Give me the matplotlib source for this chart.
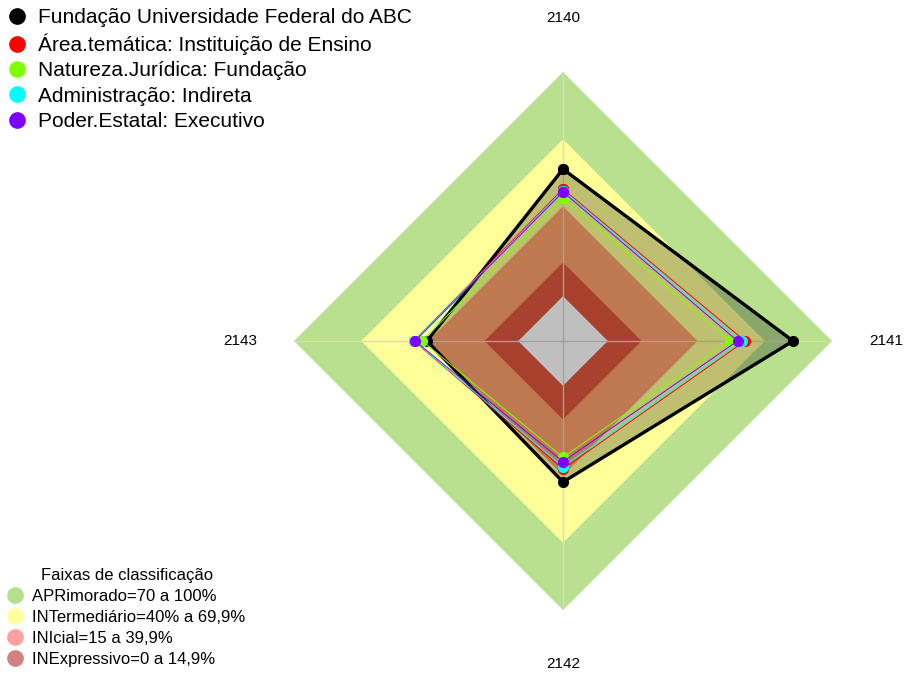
import numpy as np
import matplotlib
matplotlib.use("Agg")
import matplotlib.pyplot as plt
from matplotlib.lines import Line2D

plt.rcParams['font.family'] = ['Liberation Sans', 'DejaVu Sans']

# eixos do radar (sentido horario a partir do topo)
axis_labels = ["2140", "2141", "2142", "2143"]

# series (%)
ufabc = [56.7, 82.6, 42.9, 40.7]
area_tematica = [47.8, 61.2, 37.1, 46.5]
natureza_juridica = [43.8, 54.5, 31.9, 42.8]
administracao = [47.1, 59.7, 36.1, 46.3]
poder_estatal = [46.5, 57.9, 33.8, 46.0]

series_names = ["Fundação Universidade Federal do ABC",
                "Área.temática: Instituição de Ensino",
                "Natureza.Jurídica: Fundação",
                "Administração: Indireta",
                "Poder.Estatal: Executivo"]
series_colors = ["#000000", "#FF0000", "#7FFF00", "#00FFFF", "#8000FF"]

# faixas de classificacao
band_limits = [100, 70, 40, 15, 0]
band_fill = ["#B8E08E", "#FFFF99", "#FFA26B", "#E0563B", "#FFFFFF"]
band_names = ["APRimorado=70 a 100%", "INTermediário=40% a 69,9%",
              "INIcial=15 a 39,9%", "INExpressivo=0 a 14,9%"]
band_legend_colors = ["#B5DF8B", "#FFFFA0", "#FFA0A0", "#D48080"]

r_min, r_max = -20, 100

fig = plt.figure(figsize=(9.05, 6.75), dpi=100)
ax = fig.add_axes([294 / 905, 65 / 675, 538 / 905, 538 / 675], projection='polar')
ax.set_theta_zero_location('N')
ax.set_theta_direction(-1)
ax.set_ylim(r_min, r_max)
ax.grid(False)
ax.set_xticks([])
ax.set_yticks([])
ax.spines['polar'].set_visible(False)
ax.patch.set_visible(False)

theta = np.deg2rad(np.arange(len(axis_labels)) * 360 / len(axis_labels))
theta_closed = np.append(theta, theta[0])


def closed(vals):
    return np.append(vals, vals[0])


# faixas
for lim, col in zip(band_limits, band_fill):
    ax.fill(theta_closed, closed([lim] * len(theta)), color=col, lw=0, zorder=1)

# linhas dos eixos
for t in theta:
    ax.plot([t, t], [r_min, r_max], color="#D8D8D8", lw=1, zorder=2)

# series
all_series = [ufabc, area_tematica, natureza_juridica, administracao, poder_estatal]
ax.fill(theta_closed, closed(ufabc), color="black", alpha=0.25, lw=0, zorder=3)
for i, (vals, col) in enumerate(zip(all_series, series_colors)):
    lw = 2.4 if i == 0 else 0.7
    ax.plot(theta_closed, closed(vals), color=col, lw=lw, marker='o', ms=7,
            zorder=4 + i)

# rotulos dos eixos
for t, lab in zip(theta, axis_labels):
    ax.text(t, 124, lab, ha='center', va='center', fontsize=11, clip_on=False)

# legenda das series
handles = [Line2D([], [], ls='none', marker='o', ms=11, color=c) for c in series_colors]
fig.legend(handles, series_names, loc='upper left', bbox_to_anchor=(0.0, 1.0),
           frameon=False, fontsize=15, handletextpad=0.6, labelspacing=0.3,
           handlelength=0.8, borderaxespad=0.2, borderpad=0.2)

# legenda das faixas
band_handles = [Line2D([], [], ls='none', marker='o', ms=11, color=c) for c in band_legend_colors]
fig.legend(band_handles, band_names, loc='lower left', bbox_to_anchor=(0.0, 0.0),
           frameon=False, fontsize=12, title="Faixas de classificação",
           title_fontsize=12, handletextpad=0.6, labelspacing=0.36,
           handlelength=0.8, borderaxespad=0.25, borderpad=0.25)

fig.savefig("out.png", dpi=100)
